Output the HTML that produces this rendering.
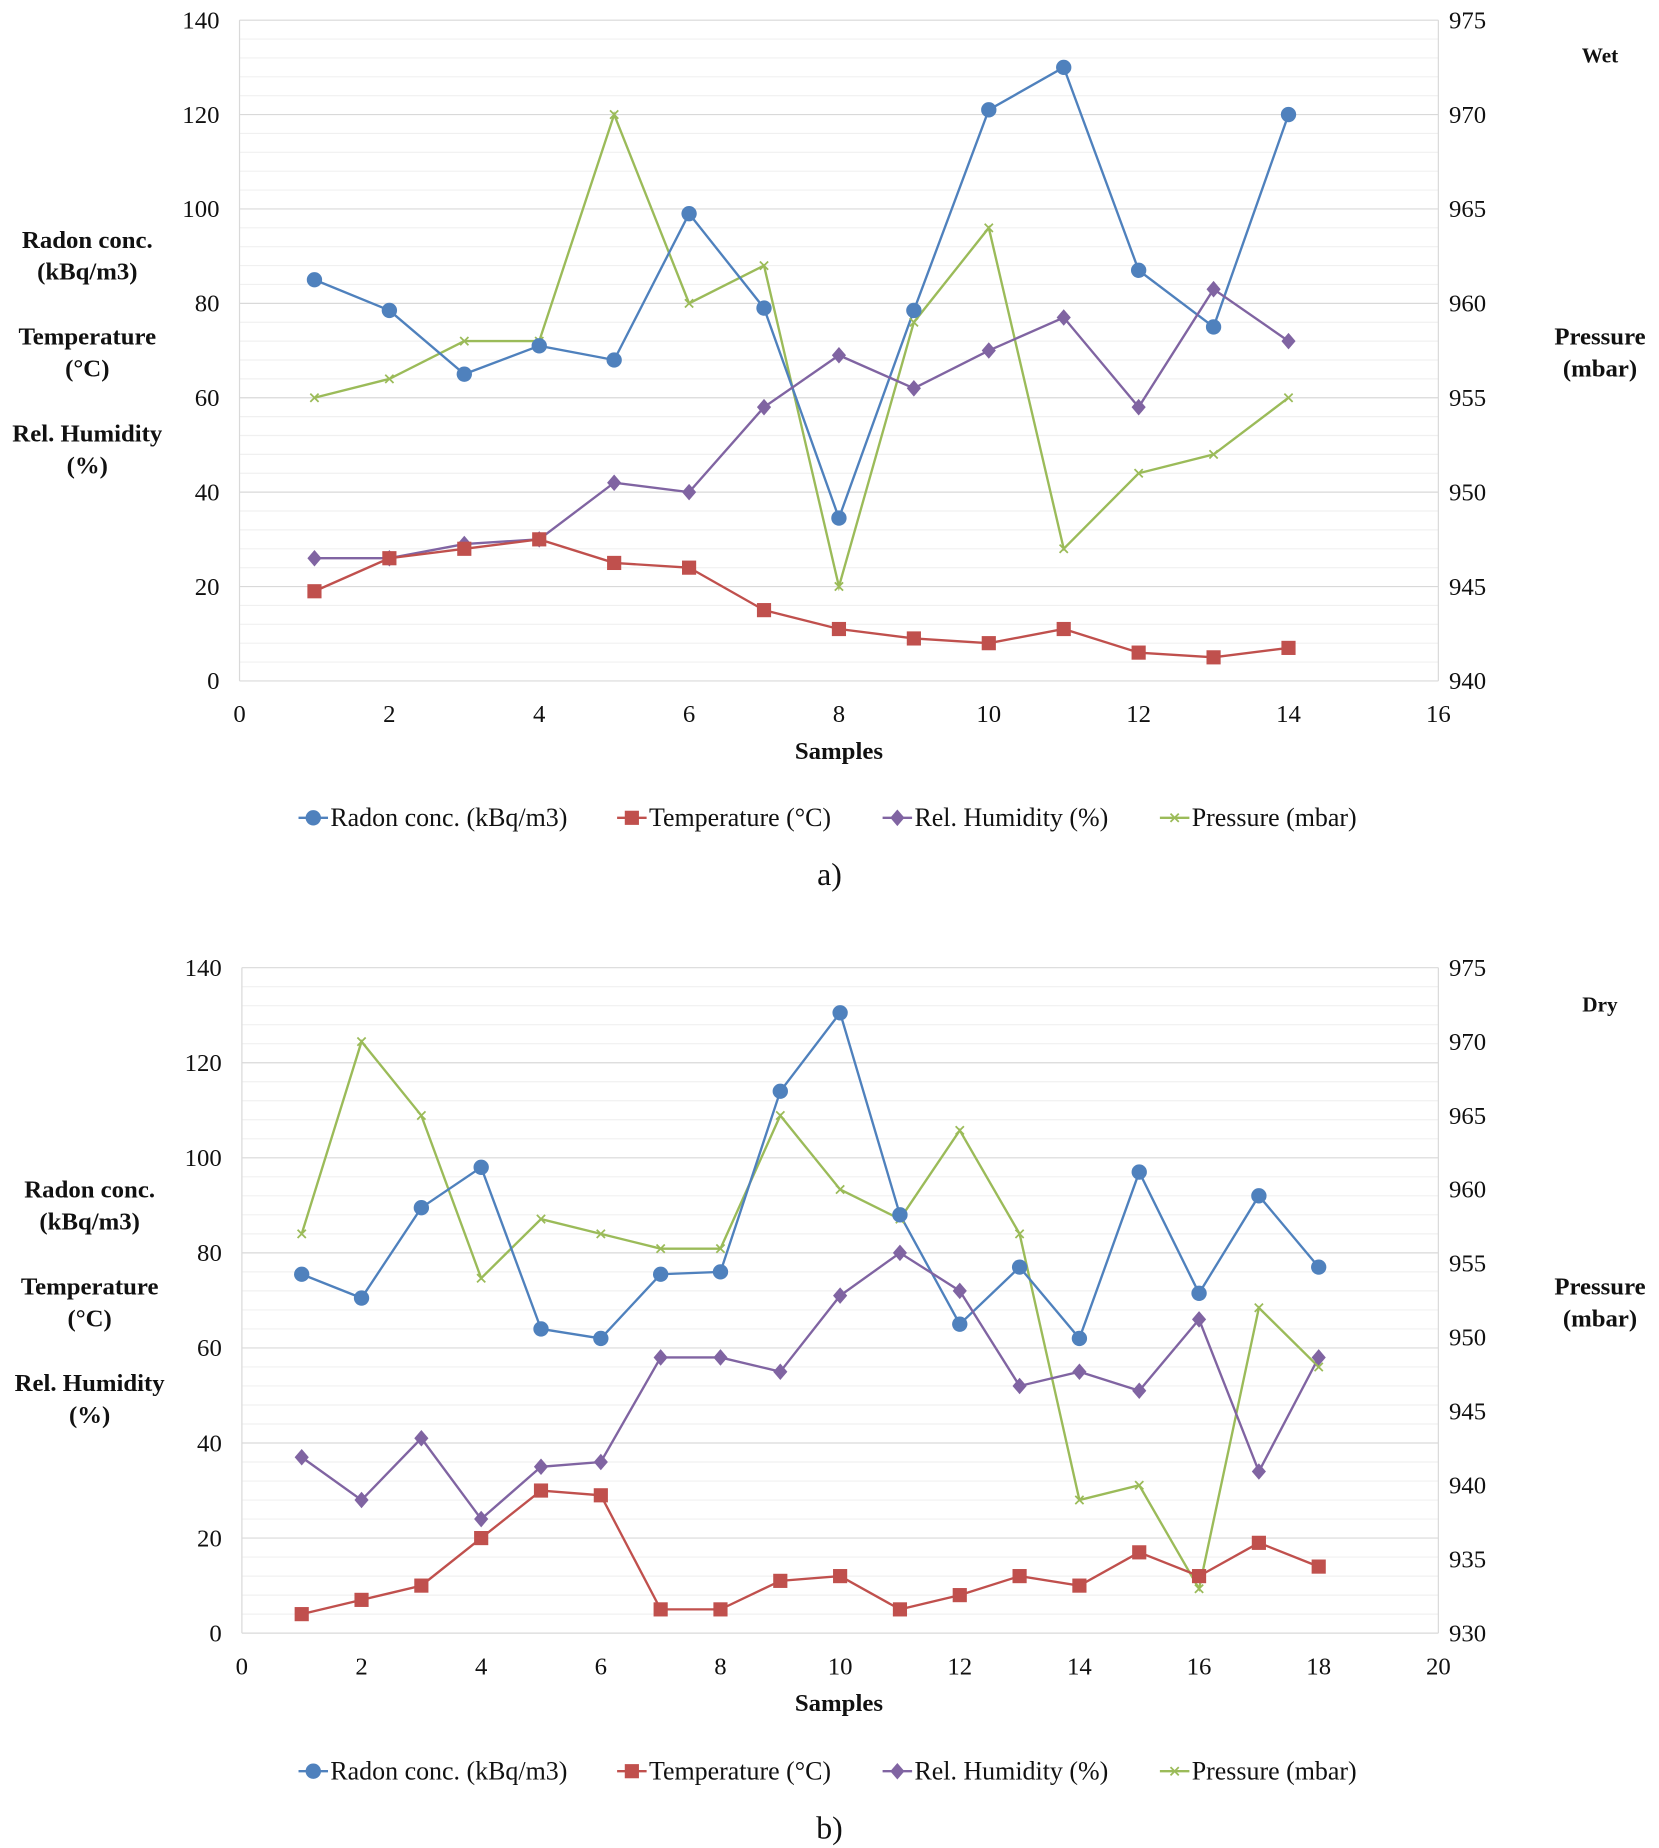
<!DOCTYPE html>
<html><head><meta charset="utf-8"><style>
html,body{margin:0;padding:0;background:#fff}
svg{display:block}
text{font-family:"Liberation Serif",serif;fill:#111}
</style></head><body>
<svg id="s" width="1659" height="1848" viewBox="0 0 1406 1566" xmlns="http://www.w3.org/2000/svg"></svg>
<script>
var s=document.getElementById('s'),h='';
function T(x,y,t,o){o=o||{};h+='<text x="'+x+'" y="'+y+'" font-size="'+(o.fs||21)+'" text-anchor="'+(o.a||'middle')+'"'+(o.b?' font-weight="bold"':'')+'>'+t+'</text>';}
var C={b:'#4f81bd',r:'#c0504d',p:'#8064a2',g:'#9bbb59'};
function mk(t,x,y){
 if(t=='b')h+='<circle cx="'+x+'" cy="'+y+'" r="6.5" fill="'+C.b+'"/>';
 else if(t=='r')h+='<rect x="'+(x-6)+'" y="'+(y-6)+'" width="12" height="12" fill="'+C.r+'"/>';
 else if(t=='p')h+='<path d="M'+x+' '+(y-7)+'L'+(x+6)+' '+y+'L'+x+' '+(y+7)+'L'+(x-6)+' '+y+'Z" fill="'+C.p+'"/>';
 else h+='<path d="M'+(x-3.5)+' '+(y-3.5)+'L'+(x+3.5)+' '+(y+3.5)+'M'+(x+3.5)+' '+(y-3.5)+'L'+(x-3.5)+' '+(y+3.5)+'" stroke="'+C.g+'" stroke-width="1.5"/>';
}
function chart(o){
 var X=function(v){return o.x0+(o.x1-o.x0)*v/o.xm},Y=function(v){return o.y0-(o.y0-o.y1)*v/140},
 YR=function(v){return o.y0-(o.y0-o.y1)*(v-o.r0)/(o.r1-o.r0)};
 for(var v=0;v<=140;v+=4){h+='<line x1="'+o.x0+'" x2="'+o.x1+'" y1="'+Y(v)+'" y2="'+Y(v)+'" stroke="'+(v%20==0?'#d9d9d9':'#f0f0f0')+'" stroke-width="1"/>';}
 h+='<line x1="'+o.x0+'" x2="'+o.x0+'" y1="'+o.y1+'" y2="'+o.y0+'" stroke="#d9d9d9"/>';
 h+='<line x1="'+o.x1+'" x2="'+o.x1+'" y1="'+o.y1+'" y2="'+o.y0+'" stroke="#d9d9d9"/>';
 for(v=0;v<=140;v+=20)T(o.x0-17,Y(v)+7,v,{a:'end'});
 for(v=o.r0;v<=o.r1;v+=5)T(o.x1+9,YR(v)+7,v,{a:'start'});
 for(v=0;v<=o.xm;v+=2)T(X(v),o.y0+35,v);
 var ser=[['g',o.P,YR],['b',o.R,Y],['p',o.H,Y],['r',o.Tm,Y]];
 ser.forEach(function(sr){var d='';sr[1].forEach(function(v,i){d+=(i?'L':'M')+X(i+1)+' '+sr[2](v);});
  h+='<path d="'+d+'" fill="none" stroke="'+C[sr[0]]+'" stroke-width="2"/>';});
 ser.forEach(function(sr){sr[1].forEach(function(v,i){mk(sr[0],X(i+1),sr[2](v));});});
 var L=o.L;
 T(L[0],L[1],'Radon conc.',{b:1});T(L[0],L[1]+27,'(kBq/m3)',{b:1});
 T(L[0],L[1]+82,'Temperature',{b:1});T(L[0],L[1]+109,'(°C)',{b:1});
 T(L[0],L[1]+164,'Rel. Humidity',{b:1});T(L[0],L[1]+191,'(%)',{b:1});
 T(1356,o.pr,'Pressure',{b:1});T(1356,o.pr+27,'(mbar)',{b:1});
 T(1356,o.tag[1],o.tag[0],{b:1,fs:18});
 T(711,o.y0+66,'Samples',{b:1});
 var ly=o.ly,items=[['b',253,'Radon conc. (kBq/m3)'],['r',523,'Temperature (°C)'],['p',748,'Rel. Humidity (%)'],['g',983,'Pressure (mbar)']];
 items.forEach(function(it){h+='<line x1="'+it[1]+'" x2="'+(it[1]+25)+'" y1="'+ly+'" y2="'+ly+'" stroke="'+C[it[0]]+'" stroke-width="2"/>';mk(it[0],it[1]+12.5,ly);T(it[1]+27,ly+7,it[2],{a:'start',fs:22});});
 T(703,o.cap,o.capt,{fs:27});
}
chart({x0:203,x1:1219,xm:16,y0:577,y1:17,r0:940,r1:975,
 R:[85,78.5,65,71,68,99,79,34.5,78.5,121,130,87,75,120],
 Tm:[19,26,28,30,25,24,15,11,9,8,11,6,5,7],
 H:[26,26,29,30,42,40,58,69,62,70,77,58,83,72],
 P:[955,956,958,958,970,960,962,945,959,964,947,951,952,955],
 L:[74,210],pr:292,tag:['Wet',53],ly:693,cap:750,capt:'a)'});
chart({x0:205,x1:1219,xm:20,y0:1384,y1:820,r0:930,r1:975,
 R:[75.5,70.5,89.5,98,64,62,75.5,76,114,130.5,88,65,77,62,97,71.5,92,77],
 Tm:[4,7,10,20,30,29,5,5,11,12,5,8,12,10,17,12,19,14],
 H:[37,28,41,24,35,36,58,58,55,71,80,72,52,55,51,66,34,58],
 P:[957,970,965,954,958,957,956,956,965,960,958,964,957,939,940,933,952,948],
 L:[76,1015],pr:1097,tag:['Dry',857],ly:1501,cap:1558,capt:'b)'});
s.innerHTML=h;
</script>
</body></html>
